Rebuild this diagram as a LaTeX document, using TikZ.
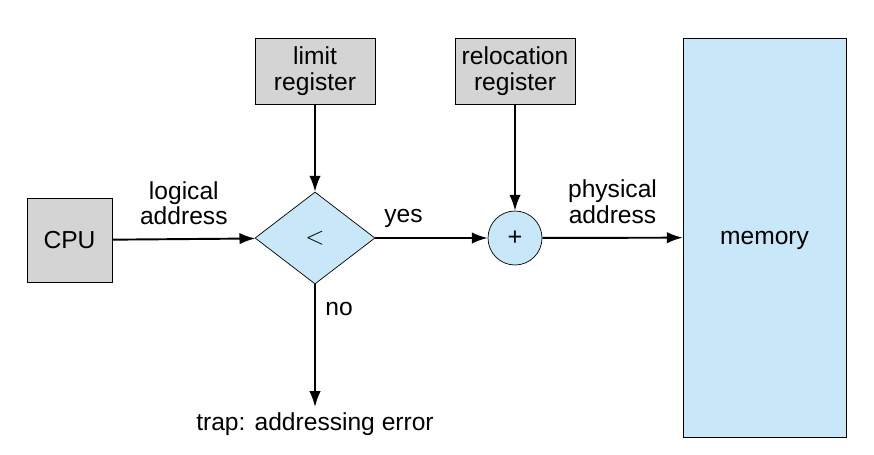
\documentclass[tikz,border=0pt]{standalone}
\usepackage{fontspec}
\setmainfont{Liberation Sans}
\usetikzlibrary{shapes.geometric,arrows.meta}
\definecolor{boxgray}{HTML}{D4D4D4}
\definecolor{memblue}{HTML}{C8E8F9}
\begin{document}
\begin{tikzpicture}[x=0.02cm,y=-0.02cm,
    every node/.style={font=\fontsize{14}{14.7}\selectfont},
    reg/.style={draw,fill=boxgray,minimum width=2.4cm,minimum height=1.32cm,align=center,inner sep=0pt},
    arr/.style={-{Latex[length=9pt,width=6.5pt]},line width=1.1pt}]
  \useasboundingbox (0,0) rectangle (874,454);
  \node[draw,fill=boxgray,minimum width=1.7cm,minimum height=1.68cm] (cpu) at (69.5,240) {CPU};
  \node[reg] (limit) at (315,71) {limit\\register};
  \node[reg] (reloc) at (515,71) {relocation\\register};
  \node[draw,diamond,fill=memblue,minimum width=2.4cm,minimum height=1.84cm,inner sep=0pt] (cmp) at (315,238) {\Large$<$};
  \node[draw,circle,fill=memblue,minimum size=1.08cm,inner sep=0pt] (add) at (515,238) {\Large +};
  \node[draw,fill=memblue,minimum width=3.26cm,minimum height=7.98cm] (mem) at (764.5,237.5) {};
  \node at (764.5,240) {memory};
  \node (trap) at (315,424) {trap: addressing error};
  \coordinate (trapend) at (315,407);
  \draw[arr] (cpu) -- node[above,align=center,yshift=4pt] {logical\\address} (cmp);
  \draw[arr] (limit) -- (cmp);
  \draw[arr] (reloc) -- (add);
  \draw[arr] (cmp) -- node[above,pos=0.25,yshift=2pt] {yes} (add);
  \draw[arr] (add) -- node[above,align=center,yshift=4pt] {physical\\address} (mem);
  \draw[arr] (cmp) -- node[right,pos=0.2,xshift=2pt] {no} (trapend);
\end{tikzpicture}
\end{document}
